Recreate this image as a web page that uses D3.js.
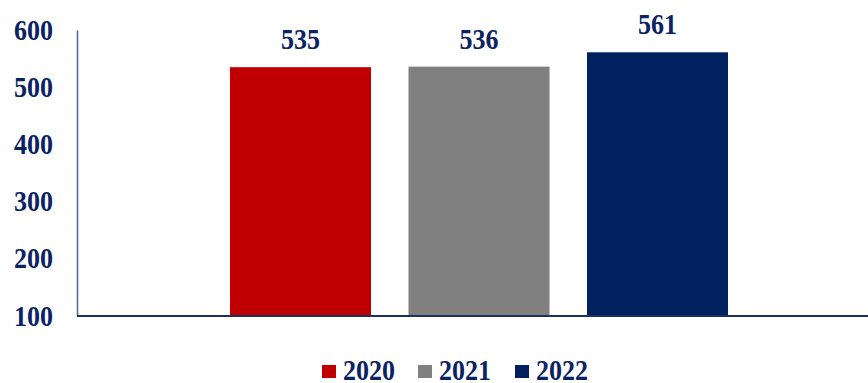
<!DOCTYPE html>
<html>
<head>
<meta charset="utf-8">
<script src="https://cdn.jsdelivr.net/npm/d3@7"></script>
<style>
  html, body { margin: 0; padding: 0; background: #ffffff; }
  svg { display: block; }
  text { font-family: "Liberation Serif", "Times New Roman", serif; font-weight: bold; fill: #0b2363; }
</style>
</head>
<body>
<svg id="chart" width="868" height="383"></svg>
<script>
// Series for a single category: one bar per year
const years = ["2020", "2021", "2022"];
const values = [535, 536, 561];
const colors = ["#c00000", "#808080", "#002060"];
const yTicks = [100, 200, 300, 400, 500, 600];

const svg = d3.select("#chart");
const fontSize = 26;
const stretch = 1.13; // serif digits are drawn slightly tall

const y = d3.scaleLinear().domain([100, 600]).range([316, 30]);
const x = d3.scaleBand()
  .domain(years)
  .range([211.25, 746.75])
  .paddingInner(0.21)
  .paddingOuter(0.105);
const color = d3.scaleOrdinal().domain(years).range(colors);

// Bars
svg.append("g")
  .selectAll("rect")
  .data(years)
  .join("rect")
  .attr("x", d => x(d))
  .attr("y", (d, i) => y(values[i]))
  .attr("width", x.bandwidth())
  .attr("height", (d, i) => y(100) - y(values[i]))
  .attr("fill", d => color(d));

// Value labels above the bars
svg.append("g")
  .selectAll("text")
  .data(years)
  .join("text")
  .attr("text-anchor", "middle")
  .attr("font-size", fontSize)
  .attr("transform", (d, i) => `translate(${x(d) + x.bandwidth() / 2},${y(values[i]) - 18}) scale(1,${stretch})`)
  .text((d, i) => values[i]);

// Y axis
const yAxis = d3.axisLeft(y).tickValues(yTicks).tickSize(0).tickPadding(24);
const gy = svg.append("g").attr("transform", "translate(77,0)").call(yAxis);
gy.select(".domain").attr("stroke", "#5b6b9b").attr("stroke-width", 1.6);
gy.selectAll(".tick text")
  .attr("font-size", fontSize)
  .attr("font-family", null)
  .attr("fill", null)
  .attr("dy", null)
  .attr("x", null)
  .attr("transform", `translate(-24,9) scale(1,${stretch})`);

// Baseline
svg.append("line")
  .attr("x1", 77).attr("x2", 868)
  .attr("y1", y(100)).attr("y2", y(100))
  .attr("stroke", "#1f3060")
  .attr("stroke-width", 2);

// Legend
const legendX = [322, 418, 515];
const lg = svg.append("g")
  .selectAll("g")
  .data(years)
  .join("g")
  .attr("transform", (d, i) => `translate(${legendX[i]},0)`);
lg.append("rect")
  .attr("x", 0).attr("y", 365)
  .attr("width", 14).attr("height", 13)
  .attr("fill", d => color(d));
lg.append("text")
  .attr("font-size", fontSize)
  .attr("transform", `translate(21,379.5) scale(1,${stretch})`)
  .text(d => d);
</script>
</body>
</html>
